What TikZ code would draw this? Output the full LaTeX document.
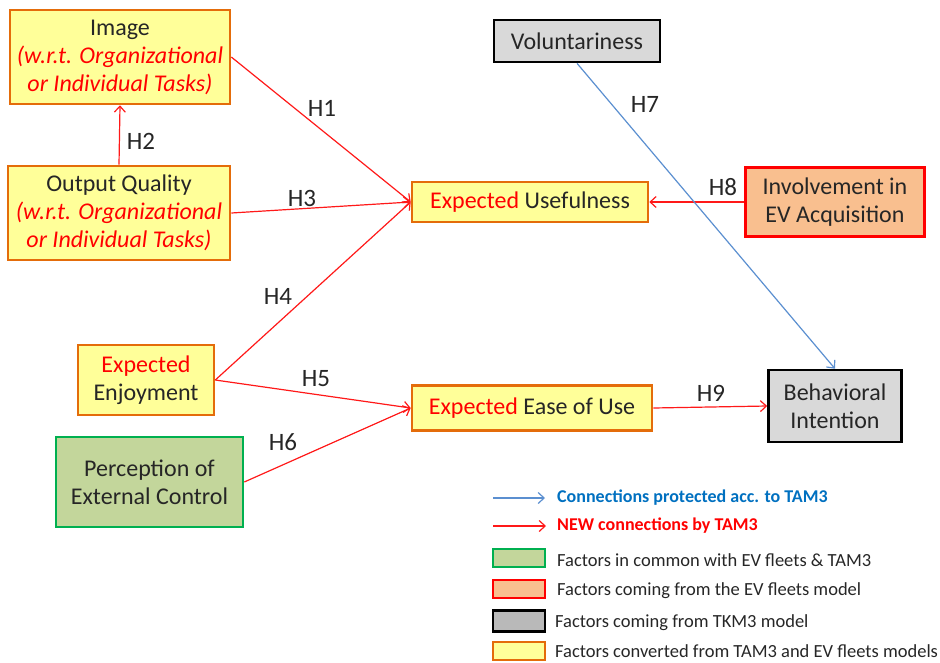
\documentclass[tikz,border=0pt]{standalone}
\usepackage{fontspec}
\setmainfont{Carlito}
\usepackage{tikz}
\usetikzlibrary{positioning,arrows.meta}
\usepackage{xcolor}

\definecolor{yellowfill}{HTML}{FFFF99}
\definecolor{orangeline}{HTML}{E46C0A}
\definecolor{grayfill}{HTML}{D9D9D9}
\definecolor{salmonfill}{HTML}{F9BF8F}
\definecolor{greenfill}{HTML}{C3D69B}
\definecolor{greenline}{HTML}{00B050}
\definecolor{bluearrow}{HTML}{5B8FD0}
\definecolor{bluetext}{HTML}{0070C0}
\definecolor{darktext}{HTML}{262626}

\tikzset{
  factor/.style={draw=orangeline, fill=yellowfill, line width=2.6pt, align=center, inner sep=0pt,
    font=\fontsize{24}{28}\selectfont, text=darktext},
  tamfactor/.style={factor, draw=black, fill=grayfill},
  evfactor/.style={factor, draw=red, fill=salmonfill},
  commonfactor/.style={factor, draw=greenline, fill=greenfill},
  newlink/.style={->, red!90!white, line width=1.2pt},
  oldlink/.style={->, bluearrow, line width=1.2pt},
  hyp/.style={font=\fontsize{25}{28}\selectfont, text=darktext, inner sep=0pt},
  legbox/.style={line width=2.4pt, minimum width=52pt, minimum height=18pt, inner sep=0pt},
  legtext/.style={anchor=west, font=\fontsize{18.5}{20}\selectfont, text=darktext, inner sep=0pt},
}
\newcommand{\expct}{\textcolor{red}{Expected}}
\newcommand{\taskline}[1]{\textcolor{red}{\itshape #1}}

\begin{document}
\begin{tikzpicture}[x=1pt, y=-1pt, >={Straight Barb[length=6pt,width=11pt]}]
    \useasboundingbox (0,0) rectangle (940,662);

    % factors on the left
    \node[factor, minimum width=220pt, minimum height=94pt] (image) at (120,57)
        {Image\\\taskline{(w.r.t. Organizational}\\\taskline{or Individual Tasks)}};
    \node[factor, minimum width=222pt, minimum height=94pt] (quality) at (119,213)
        {Output Quality\\\taskline{(w.r.t. Organizational}\\\taskline{or Individual Tasks)}};
    \node[factor, minimum width=136pt, minimum height=70pt] (enjoy) at (146,380) {\expct\\Enjoyment};
    \node[commonfactor, minimum width=187pt, minimum height=90pt] (control) at (149.5,482) {Perception of\\External Control};

    % factors in the middle
    \node[factor, minimum width=236pt, minimum height=40pt] (useful) at (530,202) {\expct{} Usefulness};
    \node[factor, minimum width=240pt, minimum height=45pt] (ease) at (532,408) {\expct{} Ease of Use};
    \node[tamfactor, minimum width=166pt, minimum height=42pt] (volunt) at (577,41) {Voluntariness};

    % factors on the right
    \node[evfactor, minimum width=179pt, minimum height=69pt] (involve) at (835,202) {Involvement in\\EV Acquisition};
    \node[tamfactor, minimum width=133pt, minimum height=72pt] (intent) at (835,406) {Behavioral\\Intention};

    % connections
    \draw[newlink] (image.east) -- (useful.west);
    \draw[newlink] (quality.north) -- (image.south);
    \draw[newlink] (quality.east) -- (useful.west);
    \draw[newlink] (enjoy.east) -- (useful.west);
    \draw[newlink] (enjoy.east) -- (ease.west);
    \draw[newlink] (control.east) -- (ease.west);
    \draw[newlink] (involve.west) -- (useful.east);
    \draw[newlink] (ease.east) -- (intent.west);
    \draw[oldlink] (volunt.south) -- (intent.north);

    % hypotheses
    \node[hyp] (h1) at (322,108) {H1};
    \node[hyp] (h2) at (141,141) {H2};
    \node[hyp] (h3) at (302,198) {H3};
    \node[hyp] (h4) at (278,296) {H4};
    \node[hyp] (h5) at (316,379) {H5};
    \node[hyp] (h6) at (283,442) {H6};
    \node[hyp] (h7) at (645,104) {H7};
    \node[hyp] (h8) at (723,187) {H8};
    \node[hyp] (h9) at (711,393) {H9};

    % legend
    \coordinate (bluestart) at (493,498);
    \coordinate (blueend) at (545,498);
    \coordinate (redstart) at (493,526);
    \coordinate (redend) at (546,526);
    \draw[oldlink] (bluestart) -- (blueend);
    \draw[newlink] (redstart) -- (redend);
    \node[legtext, text=bluetext, font=\fontsize{18}{20}\selectfont\bfseries] (leg1) at (557,498) {Connections protected acc. to TAM3};
    \node[legtext, text=red, font=\fontsize{18}{20}\selectfont\bfseries] (leg2) at (557,526) {NEW connections by TAM3};
    \node[legbox, draw=greenline, fill=greenfill] (box3) at (519,558) {};
    \node[legbox, draw=red, fill=salmonfill] (box4) at (519,589) {};
    \node[legbox, draw=black, fill=gray!55, minimum height=21pt] (box5) at (519,621) {};
    \node[legbox, draw=orangeline, fill=yellowfill] (box6) at (519,651) {};
    \node[legtext] (leg3) at (557,560) {Factors in common with EV fleets \& TAM3};
    \node[legtext] (leg4) at (557,591) {Factors coming from the EV fleets model};
    \node[legtext] (leg5) at (555,623) {Factors coming from TKM3 model};
    \node[legtext] (leg6) at (555,651) {Factors converted from TAM3 and EV fleets models};

\end{tikzpicture}
\end{document}
